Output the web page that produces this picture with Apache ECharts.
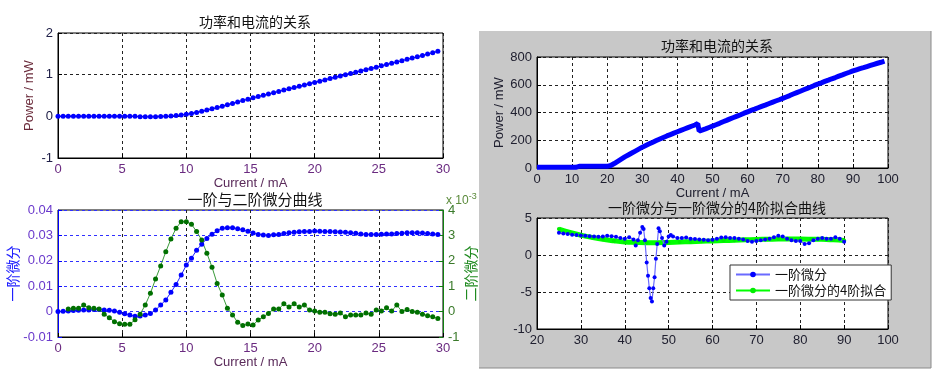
<!DOCTYPE html>
<html>
<head>
<meta charset="utf-8">
<script src="https://cdn.jsdelivr.net/npm/echarts@6/dist/echarts.min.js"></script>
<style>
  html, body { margin: 0; padding: 0; background: #fff; }
  #chart { width: 940px; height: 376px; }
</style>
</head>
<body>
<div id="chart"></div>
<script>
// 左图: 电流取样点 (mA)
var currentSmall = [
  0, 0.4, 0.8, 1.2, 1.6, 2.0, 2.4, 2.8, 3.2, 3.6,
  4.0, 4.4, 4.8, 5.2, 5.6, 6.0, 6.4, 6.8, 7.2, 7.6,
  8.0, 8.4, 8.8, 9.2, 9.6, 10.0, 10.4, 10.8, 11.2, 11.6,
  12.0, 12.4, 12.8, 13.2, 13.6, 14.0, 14.4, 14.8, 15.2, 15.6,
  16.0, 16.4, 16.8, 17.2, 17.6, 18.0, 18.4, 18.8, 19.2, 19.6,
  20.0, 20.4, 20.8, 21.2, 21.6, 22.0, 22.4, 22.8, 23.2, 23.6,
  24.0, 24.4, 24.8, 25.2, 25.6, 26.0, 26.4, 26.8, 27.2, 27.6,
  28.0, 28.4, 28.8, 29.2, 29.6
]
var powerSmall = [
  0, 0.005, 0.005, 0.005, 0.005, 0.005, 0.005, 0.005, 0.005, 0.005,
  0.005, 0.005, 0.005, 0.005, 0.003, 0, -0.008, -0.01, -0.01, -0.008,
  -0.003, 0.002, 0.008, 0.018, 0.032, 0.05, 0.07, 0.095, 0.12, 0.15,
  0.18, 0.21, 0.245, 0.28, 0.31, 0.345, 0.38, 0.41, 0.445, 0.475,
  0.505, 0.535, 0.565, 0.595, 0.63, 0.66, 0.69, 0.72, 0.755, 0.785,
  0.815, 0.845, 0.875, 0.91, 0.94, 0.97, 1.0, 1.03, 1.06, 1.09,
  1.12, 1.15, 1.18, 1.215, 1.245, 1.275, 1.305, 1.335, 1.37, 1.4,
  1.43, 1.46, 1.495, 1.525, 1.56
]
var deriv1Small = [
  0, 0.0001, 0.0002, 0.0004, 0.0005, 0.0006, 0.0006, 0.0008, 0.0008, 0.0006,
  0.0005, 0.0002, -0.0003, -0.0008, -0.0013, -0.0018, -0.0017, -0.0013, -0.0007, 0.0006,
  0.0026, 0.0046, 0.0076, 0.0107, 0.0144, 0.0183, 0.021, 0.0242, 0.0265, 0.0288,
  0.0305, 0.0318, 0.0328, 0.033, 0.033, 0.0326, 0.0322, 0.0316, 0.0309, 0.0304,
  0.0302, 0.03, 0.0303, 0.0304, 0.0307, 0.031, 0.0312, 0.0314, 0.0315, 0.0315,
  0.0317, 0.0316, 0.0315, 0.0315, 0.0314, 0.0313, 0.0312, 0.031, 0.0308, 0.0306,
  0.0304, 0.0304, 0.0304, 0.0305, 0.0306, 0.0306, 0.0307, 0.0308, 0.031, 0.031,
  0.031, 0.0309, 0.0307, 0.0306, 0.0304
]
// 二阶微分 (单位 x10^-3), 从 0.8 mA 开始
var current2nd = [
  0.8, 1.2, 1.6, 2.0, 2.4, 2.8, 3.2, 3.6, 4.0, 4.4,
  4.8, 5.2, 5.6, 6.0, 6.4, 6.8, 7.2, 7.6, 8.0, 8.4,
  8.8, 9.2, 9.6, 10.0, 10.4, 10.8, 11.2, 11.6, 12.0, 12.4,
  12.8, 13.2, 13.6, 14.0, 14.4, 14.8, 15.2, 15.6, 16.0, 16.4,
  16.8, 17.2, 17.6, 18.0, 18.4, 18.8, 19.2, 19.6, 20.0, 20.4,
  20.8, 21.2, 21.6, 22.0, 22.4, 22.8, 23.2, 23.6, 24.0, 24.4,
  24.8, 25.2, 25.6, 26.0, 26.4, 26.8, 27.2, 27.6, 28.0, 28.4,
  28.8, 29.2, 29.6
]
var deriv2Small = [
  0.1, 0.13, 0.13, 0.26, 0.15, 0.13, 0.1, -0.1, -0.24, -0.4,
  -0.48, -0.5, -0.5, -0.32, -0.1, 0.26, 0.72, 1.28, 1.8, 2.36,
  2.86, 3.28, 3.54, 3.54, 3.44, 3.15, 2.82, 2.3, 1.75, 1.11,
  0.65, 0.13, -0.13, -0.42, -0.55, -0.49, -0.53, -0.33, -0.2, -0.07,
  0.1, 0.1, 0.31, 0.18, 0.31, 0.18, 0.26, 0.06, 0.02, -0.03,
  -0.03, -0.08, -0.1, -0.06, -0.2, -0.13, -0.13, -0.13, -0.06, -0.1,
  0.06, 0.02, 0.15, 0.02, 0.26, 0, 0.08, 0, -0.03, -0.1,
  -0.16, -0.2, -0.27
]

// 右图: 功率和电流
var currentBig = [
  0, 1, 2, 3, 4, 5, 6, 7, 8, 9, 10, 11, 12, 13, 14, 15, 16, 17, 18, 19,
  20, 21, 22, 23, 24, 25, 26, 27, 28, 29, 30, 31, 32, 33, 34, 35, 36, 37, 38, 39,
  40, 41, 42, 43, 44, 45, 45.8, 46.2, 47, 48, 49, 50, 51, 52, 53, 54, 55, 56, 57, 58, 59,
  60, 61, 62, 63, 64, 65, 66, 67, 68, 69, 70, 71, 72, 73, 74, 75, 76, 77, 78, 79,
  80, 81, 82, 83, 84, 85, 86, 87, 88, 89, 90, 91, 92, 93, 94, 95, 96, 97, 98, 99
]
var powerBig = [
  5, 5, 5, 5, 5, 5, 5, 5, 5, 5, 5, 5, 12, 12, 12, 12, 12, 12, 12, 12,
  12, 18, 32, 48, 64, 80, 94, 108, 122, 136, 150, 162, 174, 186, 198, 209, 220, 231, 241, 251,
  261, 271, 281, 291, 301, 310, 320, 266, 273, 282, 292, 302, 312, 322, 333, 343, 354, 364, 374, 384, 395,
  405, 415, 424, 434, 444, 453, 463, 473, 483, 492, 502, 512, 522, 533, 543, 553, 564, 574, 584, 595,
  605, 614, 624, 633, 643, 652, 662, 671, 681, 690, 700, 708, 716, 723, 731, 739, 747, 755, 762, 770
]

// 右下: 一阶微分与 4 阶拟合
var currentD = [
  25, 26, 27, 28, 29, 30, 31, 32, 33, 34, 35, 36, 37, 38, 39, 40, 41, 42, 42.5, 43,
  43.5, 44, 44.3, 44.6, 45, 45.3, 45.6, 45.9, 46.2, 46.5, 46.8, 47.1, 47.4, 47.7, 48, 48.5, 49, 49.5, 50, 50.5,
  51, 52, 53, 54, 55, 56, 57, 58, 59, 60, 61, 62, 63, 64, 65, 66, 67, 68, 69, 70,
  71, 72, 73, 74, 75, 76, 77, 78, 79, 80, 81, 82, 83, 84, 85, 86, 87, 88, 89, 90
]
var derivD = [
  3.0, 2.9, 2.85, 2.75, 2.7, 2.65, 2.6, 2.55, 2.5, 2.45, 2.5, 2.6, 2.55, 2.45, 2.3, 2.2, 2.4, 2.1, 1.3, 2.0,
  3.0, 3.8, 3.5, 2.0, -1.0, -2.8, -4.5, -5.8, -6.3, -4.5, -3.0, -0.5, 1.5, 3.6, 3.2, 2.3, 1.3, 1.8, 2.5, 2.7,
  2.5, 2.3, 2.3, 2.35, 2.2, 2.15, 2.1, 2.05, 2.0, 2.05, 2.2, 2.35, 2.4, 2.3, 2.3, 2.2, 2.1, 1.9, 1.8, 1.9,
  2.0, 2.1, 2.2, 2.4, 2.6, 2.5, 2.2, 2.0, 1.9, 1.9, 1.5, 1.6, 2.0, 2.2, 2.3, 2.2, 2.2, 2.4, 2.2, 1.8
]
var currentFit = [25, 27.5, 30, 32.5, 35, 37.5, 40, 42.5, 45, 47.5, 50, 52.5, 55, 57.5, 60, 62.5, 65, 67.5, 70, 72.5, 75, 77.5, 80, 82.5, 85, 87.5, 90]
var fitD = [3.5, 3.05, 2.68, 2.38, 2.12, 1.92, 1.77, 1.7, 1.66, 1.66, 1.7, 1.75, 1.8, 1.85, 1.9, 1.95, 2.0, 2.05, 2.1, 2.12, 2.15, 2.15, 2.15, 2.14, 2.12, 2.05, 1.95]

function pairs(xs, ys) {
  return xs.map(function (x, i) { return [x, ys[i]] })
}

var font = 'Liberation Sans, Arial, Noto Sans CJK SC, sans-serif'
var cjk = 'Noto Sans CJK SC, sans-serif'
var grid = '#222'

function xAx(gi, min, max, step, labelColor, nameText, nameColor) {
  return {
    type: 'value', gridIndex: gi, min: min, max: max, interval: step,
    axisLine: { show: true, onZero: false, lineStyle: { color: '#000' } },
    axisTick: { show: true, inside: true, length: 4, lineStyle: { color: '#000' } },
    axisLabel: { color: labelColor, fontFamily: font, fontSize: 13, margin: 5, showMinLabel: true, showMaxLabel: true },
    splitLine: { show: true, lineStyle: { color: grid, type: [3, 3], width: 1 } },
    name: nameText, nameLocation: 'middle', nameGap: 18,
    nameTextStyle: { color: nameColor, fontFamily: font, fontSize: 13 }
  }
}

function yAx(gi, min, max, step, labelColor, opts) {
  var o = {
    type: 'value', gridIndex: gi, min: min, max: max, interval: step,
    axisLine: { show: true, lineStyle: { color: '#000' } },
    axisTick: { show: true, inside: true, length: 4, lineStyle: { color: '#000' } },
    axisLabel: { color: labelColor, fontFamily: font, fontSize: 13, margin: 5, showMinLabel: true, showMaxLabel: true },
    splitLine: { show: true, lineStyle: { color: grid, type: [3, 3], width: 1 } }
  }
  for (var k in opts) o[k] = opts[k]
  return o
}

var chart = echarts.init(document.getElementById('chart'), null, { renderer: 'canvas' })

var option = {
  animation: false,
  backgroundColor: '#fff',
  graphic: [
    { type: 'rect', z: -10, shape: { x: 479, y: 31, width: 452, height: 337 },
      style: { fill: '#c8c8c8' } },
    { type: 'polyline', z: -9, shape: { points: [[931, 31], [931, 368], [479, 368]] },
      style: { stroke: '#8a8a8a', lineWidth: 1, fill: null } },
    { type: 'text', left: 446, top: 192, z: 10,
      style: { text: '{a|x 10}{b|-3}', rich: {
        a: { fontFamily: font, fontSize: 12, fill: '#5a8a3a' },
        b: { fontFamily: font, fontSize: 9, fill: '#5a8a3a', verticalAlign: 'top', padding: [0, 0, 8, 0] } } } }
  ],
  title: [
    { text: '功率和电流的关系', left: 250, top: 10, textAlign: 'center',
      textStyle: { fontFamily: cjk, fontSize: 14, fontWeight: 'normal', color: '#111' } },
    { text: '一阶与二阶微分曲线', left: 250, top: 187, textAlign: 'center',
      textStyle: { fontFamily: cjk, fontSize: 15, fontWeight: 'normal', color: '#111' } },
    { text: '功率和电流的关系', left: 712, top: 34, textAlign: 'center',
      textStyle: { fontFamily: cjk, fontSize: 14, fontWeight: 'normal', color: '#111' } },
    { text: '一阶微分与一阶微分的4阶拟合曲线', left: 712, top: 196, textAlign: 'center',
      textStyle: { fontFamily: cjk, fontSize: 14, fontWeight: 'normal', color: '#111' } }
  ],
  legend: {
    data: ['一阶微分', '一阶微分的4阶拟合'],
    orient: 'vertical', left: 730, top: 265,
    padding: [3, 5], itemGap: 3, itemWidth: 34, itemHeight: 7,
    backgroundColor: '#fff', borderColor: '#333', borderWidth: 1, borderRadius: 0,
    textStyle: { fontFamily: cjk, fontSize: 13, color: '#111' }
  },
  grid: [
    { left: 58, top: 33, width: 385, height: 125, show: true, backgroundColor: '#fff', borderColor: '#000', borderWidth: 1 },
    { left: 58, top: 210, width: 385, height: 127, show: true, backgroundColor: '#fff', borderColor: '#000', borderWidth: 1 },
    { left: 537, top: 57, width: 351, height: 111, show: true, backgroundColor: '#fff', borderColor: '#000', borderWidth: 1 },
    { left: 537, top: 218, width: 351, height: 111, show: true, backgroundColor: '#fff', borderColor: '#000', borderWidth: 1 }
  ],
  xAxis: [
    xAx(0, 0, 30, 5, '#6a2a80', 'Current / mA', '#5a2a5a'),
    xAx(1, 0, 30, 5, '#6a2a80', 'Current / mA', '#5a2a5a'),
    xAx(2, 0, 100, 10, '#202030', 'Current / mA', '#202030'),
    xAx(3, 20, 100, 10, '#202030', '', '#202030')
  ],
  yAxis: [
    yAx(0, -1, 2, 1, '#202048', {
      name: 'Power / mW', nameLocation: 'middle', nameGap: 22, nameRotate: 90,
      nameTextStyle: { color: '#6a2a3a', fontFamily: font, fontSize: 13 }
    }),
    yAx(1, -0.01, 0.04, 0.01, '#6a3acc', {
      axisLine: { show: true, lineStyle: { color: '#0000ff' } },
      axisTick: { show: true, inside: true, length: 4, lineStyle: { color: '#0000ff' } },
      axisLabel: { color: '#6a3acc', fontFamily: font, fontSize: 13, margin: 5, showMinLabel: true, showMaxLabel: true,
        formatter: function (v) { return String(+v.toFixed(2)) } },
      splitLine: { show: true, lineStyle: { color: '#3030ff', type: [3, 3], width: 1 } },
      name: '一阶微分', nameLocation: 'middle', nameGap: 34, nameRotate: 90,
      nameTextStyle: { color: '#2020ff', fontFamily: cjk, fontSize: 14 }
    }),
    yAx(1, -1, 4, 1, '#3a7a2a', {
      position: 'right',
      axisLine: { show: true, lineStyle: { color: '#108010' } },
      axisTick: { show: true, inside: true, length: 4, lineStyle: { color: '#108010' } },
      splitLine: { show: false },
      name: '二阶微分', nameLocation: 'middle', nameGap: 12, nameRotate: 90,
      nameTextStyle: { color: '#208a20', fontFamily: cjk, fontSize: 14 }
    }),
    yAx(2, 0, 800, 200, '#202030', {
      name: 'Power / mW', nameLocation: 'middle', nameGap: 24, nameRotate: 90,
      nameTextStyle: { color: '#202030', fontFamily: font, fontSize: 13 }
    }),
    yAx(3, -10, 5, 5, '#202030', {})
  ],
  series: [
    { name: 'P-I', type: 'line', xAxisIndex: 0, yAxisIndex: 0, data: pairs(currentSmall, powerSmall),
      symbol: 'circle', symbolSize: 5, lineStyle: { color: '#0000ff', width: 1.2 }, itemStyle: { color: '#0000ff' } },
    { name: '一阶', type: 'line', xAxisIndex: 1, yAxisIndex: 1, data: pairs(currentSmall, deriv1Small),
      symbol: 'circle', symbolSize: 5, lineStyle: { color: '#2020ff', width: 1 }, itemStyle: { color: '#0000ff' } },
    { name: '二阶', type: 'line', xAxisIndex: 1, yAxisIndex: 2, data: pairs(current2nd, deriv2Small),
      symbol: 'circle', symbolSize: 5, lineStyle: { color: '#3a9a3a', width: 1 }, itemStyle: { color: '#007000' } },
    { name: 'P-I big', type: 'line', xAxisIndex: 2, yAxisIndex: 3, data: pairs(currentBig, powerBig),
      showSymbol: false, symbol: 'none', lineStyle: { color: '#0000ff', width: 5 } },
    { name: '一阶微分的4阶拟合', type: 'line', xAxisIndex: 3, yAxisIndex: 4, data: pairs(currentFit, fitD),
      smooth: true, symbol: 'circle', symbolSize: 4, lineStyle: { color: '#00ff00', width: 5 }, itemStyle: { color: '#00ee00' } },
    { name: '一阶微分', type: 'line', xAxisIndex: 3, yAxisIndex: 4, data: pairs(currentD, derivD),
      symbol: 'circle', symbolSize: 4, lineStyle: { color: '#6a6aff', width: 1.2 }, itemStyle: { color: '#0000ff' } }
  ]
}

chart.setOption(option)
</script>
</body>
</html>
